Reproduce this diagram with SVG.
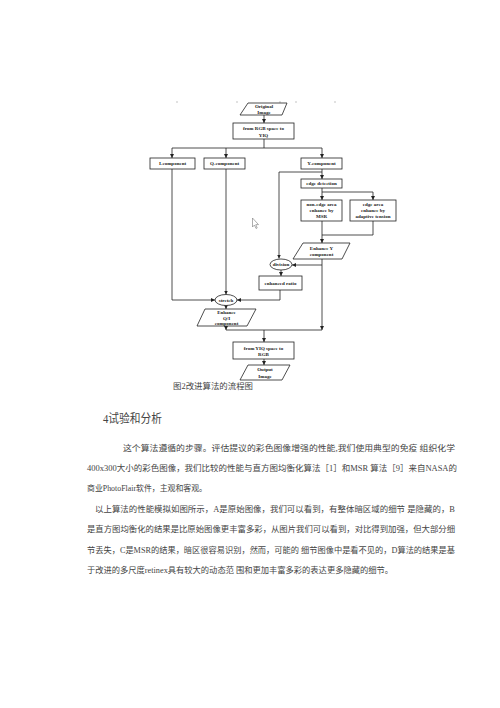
<svg xmlns="http://www.w3.org/2000/svg" width="500" height="708" viewBox="0 0 500 708">
<defs>
<marker id="ah" markerUnits="userSpaceOnUse" markerWidth="4" markerHeight="4" refX="4" refY="2" orient="auto">
<path d="M0,0 L4,2 L0,4 z" fill="#222"/>
</marker>
<style>
.bx{fill:#fff;stroke:#222;stroke-width:0.8}
.ft{font-family:"Liberation Serif",serif;font-weight:bold;font-size:5px;fill:#222;text-anchor:middle}
.ln{fill:none;stroke:#222;stroke-width:0.8}
.ar{fill:none;stroke:#222;stroke-width:0.8;marker-end:url(#ah)}
.body{font-family:"Liberation Serif","Noto Sans CJK SC",serif;font-size:8.5px;fill:#444}
</style>
</defs>
<rect width="500" height="708" fill="#fff"/>
<g id="dots" fill="#888">
<rect x="176.5" y="101.5" width="1" height="1"/>
<rect x="236.5" y="101.5" width="1" height="1"/>
<rect x="279.5" y="101.5" width="1" height="1"/>
<rect x="295.5" y="101.5" width="1" height="1"/>
<rect x="334.5" y="101.5" width="1" height="1"/>
</g>
<g id="connectors">
<path class="ar" d="M264,115 V123"/>
<path class="ln" d="M264,139 V148 M172,148 H322"/>
<path class="ar" d="M172,148 V158"/>
<path class="ar" d="M226,148 V158"/>
<path class="ar" d="M322,148 V158"/>
<path class="ar" d="M172,169 V300 H215"/>
<path class="ar" d="M226,169 V294.5"/>
<path class="ar" d="M322,169 V179"/>
<path class="ar" d="M322,172 H279 V258.5"/>
<path class="ar" d="M322,188 V200"/>
<path class="ar" d="M322,192 H373 V200"/>
<path class="ar" d="M322,221 V243"/>
<path class="ln" d="M373,221 V235 H322"/>
<path class="ar" d="M322,259 V330"/>
<path class="ar" d="M322,265 H292"/>
<path class="ar" d="M281,270 V276"/>
<path class="ar" d="M280,290 V300 H237"/>
<path class="ar" d="M226,305.5 V309"/>
<path class="ar" d="M226,326 V330"/>
<path class="ln" d="M226,330 H322"/>
<path class="ar" d="M264,330 V342"/>
<path class="ar" d="M264,359 V365"/>
</g>
<g id="original">
<polygon class="bx" points="248,103 287,103 282,115 240,115"/>
<text class="ft" x="264" y="108">Original</text>
<text class="ft" x="264" y="114">Image</text>
</g>
<g id="rgb2yiq">
<rect class="bx" x="233" y="123" width="61" height="16"/>
<text class="ft" x="263.5" y="130">from RGB space to</text>
<text class="ft" x="263.5" y="136.5">YIQ</text>
</g>
<g id="icomp">
<rect class="bx" x="150" y="158" width="45" height="11"/>
<text class="ft" x="172.5" y="165">I-component</text>
</g>
<g id="qcomp">
<rect class="bx" x="204" y="158" width="41" height="11"/>
<text class="ft" x="224.5" y="165">Q-component</text>
</g>
<g id="ycomp">
<rect class="bx" x="301" y="158" width="41" height="11"/>
<text class="ft" x="321.5" y="165">Y-component</text>
</g>
<g id="edgedet">
<rect class="bx" x="301" y="179" width="41" height="9"/>
<text class="ft" x="321.5" y="185.3">edge detection</text>
</g>
<g id="nonedge">
<rect class="bx" x="301" y="200" width="41" height="21"/>
<text class="ft" x="321.5" y="205.5">non-edge area</text>
<text class="ft" x="321.5" y="211.5">enhance by</text>
<text class="ft" x="321.5" y="217.5">MSR</text>
</g>
<g id="edgearea">
<rect class="bx" x="350" y="200" width="46" height="21"/>
<text class="ft" x="373" y="205.5">edge area</text>
<text class="ft" x="373" y="211.5">enhance by</text>
<text class="ft" x="373" y="217.5">adaptive tension</text>
</g>
<g id="enhy">
<polygon class="bx" points="303,243 350,243 342,259 293,259"/>
<text class="ft" x="321.5" y="249.5">Enhance Y</text>
<text class="ft" x="321.5" y="256">component</text>
</g>
<g id="division">
<ellipse class="bx" cx="281" cy="264.5" rx="11" ry="5.5"/>
<text class="ft" x="281" y="266.3">division</text>
</g>
<g id="ratio">
<rect class="bx" x="259" y="276" width="43" height="14"/>
<text class="ft" x="280.5" y="284.8">enhanced ratio</text>
</g>
<g id="stretch">
<ellipse class="bx" cx="226" cy="300" rx="11" ry="5.5"/>
<text class="ft" x="226" y="301.8">stretch</text>
</g>
<g id="enhqi">
<polygon class="bx" points="205,309 256,309 247,326 197,326"/>
<text class="ft" x="226.5" y="313.5">Enhance</text>
<text class="ft" x="226.5" y="319.5">Q/I</text>
<text class="ft" x="226.5" y="325.3">component</text>
</g>
<g id="yiq2rgb">
<rect class="bx" x="233" y="342" width="61" height="17"/>
<text class="ft" x="263.5" y="349.5">from YIQ space to</text>
<text class="ft" x="263.5" y="356">RGB</text>
</g>
<g id="output">
<polygon class="bx" points="248,365 290,365 282,380 240,380"/>
<text class="ft" x="265" y="371">Output</text>
<text class="ft" x="265" y="377.5">Image</text>
</g>
<g id="cursor">
<path d="M252.5,218 V227 L254.5,225 L256,228.5 L257.2,228 L255.8,224.6 L258.5,224.6 Z" fill="#fff" stroke="#777" stroke-width="0.6"/>
</g>
<text class="body" x="173" y="389" textLength="80" lengthAdjust="spacingAndGlyphs">图2改进算法的流程图</text>
<text class="body" x="103" y="422.5" style="font-size:12px" textLength="59" lengthAdjust="spacingAndGlyphs">4试验和分析</text>
<text class="body" x="123" y="451" textLength="332" lengthAdjust="spacingAndGlyphs">这个算法遵循的步骤。评估提议的彩色图像增强的性能,我们使用典型的免疫 组织化学</text>
<text class="body" x="87" y="471" textLength="370" lengthAdjust="spacingAndGlyphs">400x300大小的彩色图像，我们比较的性能与直方图均衡化算法［1］和MSR 算法［9］来自NASA的</text>
<text class="body" x="87" y="491" textLength="120" lengthAdjust="spacingAndGlyphs">商业PhotoFlair软件，主观和客观。</text>
<text class="body" x="95" y="512" textLength="360" lengthAdjust="spacingAndGlyphs">以上算法的性能模拟如图所示，A是原始图像，我们可以看到，有整体暗区域的细节 是隐藏的，B</text>
<text class="body" x="87" y="532" textLength="368" lengthAdjust="spacingAndGlyphs">是直方图均衡化的结果是比原始图像更丰富多彩，从图片我们可以看到，对比得到加强，但大部分细</text>
<text class="body" x="87" y="553" textLength="368" lengthAdjust="spacingAndGlyphs">节丢失，C是MSR的结果，暗区很容易识别，然而，可能的 细节图像中是看不见的，D算法的结果是基</text>
<text class="body" x="87" y="573" textLength="306" lengthAdjust="spacingAndGlyphs">于改进的多尺度retinex具有较大的动态范 围和更加丰富多彩的表达更多隐藏的细节。</text>
</svg>
